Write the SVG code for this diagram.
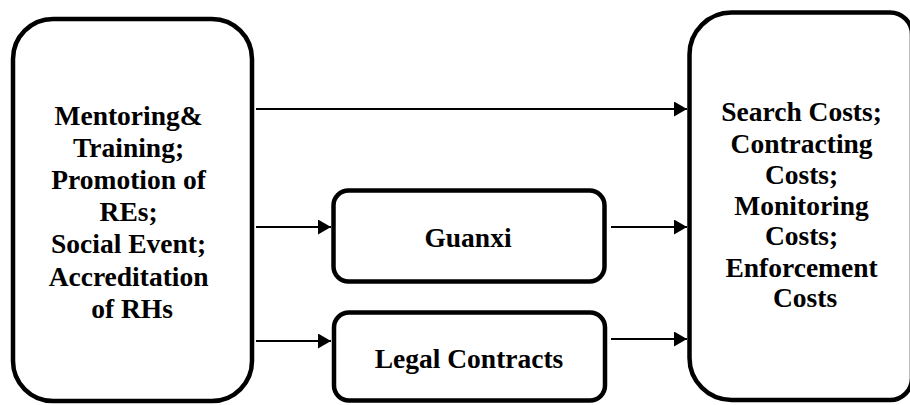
<svg xmlns="http://www.w3.org/2000/svg" width="910" height="405" viewBox="0 0 910 405">
<defs>
<marker id="ah" markerUnits="userSpaceOnUse" markerWidth="14" markerHeight="16" refX="13" refY="7.5" orient="auto">
<path d="M0,0 L13,7.5 L0,15 z" fill="#000"/>
</marker>
<style>
.box{fill:#fff;stroke:#000;stroke-width:4.5}
.t{font-weight:bold;font-size:27.5px;fill:#000;text-anchor:middle}
.c{stroke:#000;stroke-width:1.8;fill:none;marker-end:url(#ah)}
</style>
</defs>
<rect width="910" height="405" fill="#fff"/>
<g id="inputs">
<rect class="box" x="13" y="19" width="239" height="382" rx="40" ry="40"/>
<text class="t" font-family="'Liberation Serif', 'Times New Roman', 'DejaVu Serif', serif">
<tspan x="132" y="125">Mentoring&amp;</tspan>
<tspan x="132" y="157">Training;</tspan>
<tspan x="132" y="189">Promotion of</tspan>
<tspan x="132" y="221">REs;</tspan>
<tspan x="132" y="253">Social Event;</tspan>
<tspan x="132" y="286">Accreditation</tspan>
<tspan x="132" y="318">of RHs</tspan>
</text>
</g>
<g id="guanxi">
<rect class="box" x="333.5" y="190.5" width="271" height="91" rx="15" ry="15"/>
<text class="t" font-family="'Liberation Serif', 'Times New Roman', 'DejaVu Serif', serif" x="468" y="247">Guanxi</text>
</g>
<g id="legal">
<rect class="box" x="334" y="312.5" width="271" height="88" rx="15" ry="15"/>
<text class="t" font-family="'Liberation Serif', 'Times New Roman', 'DejaVu Serif', serif" x="469" y="368">Legal Contracts</text>
</g>
<g id="costs">
<path class="box" d="M731.5,12.5 L890,12.5 A22,22 0 0 1 912,34.5 L912,378 A22,22 0 0 1 890,400 L731.5,400 A42,42 0 0 1 689.5,358 L689.5,54.5 A42,42 0 0 1 731.5,12.5 Z"/>
<text class="t" font-family="'Liberation Serif', 'Times New Roman', 'DejaVu Serif', serif">
<tspan x="805" y="121">Search Costs;</tspan>
<tspan x="805" y="153">Contracting</tspan>
<tspan x="805" y="184">Costs;</tspan>
<tspan x="805" y="215">Monitoring</tspan>
<tspan x="805" y="245">Costs;</tspan>
<tspan x="805" y="277">Enforcement</tspan>
<tspan x="805" y="307">Costs</tspan>
</text>
</g>
<g id="connectors">
<line class="c" x1="256" y1="109" x2="687" y2="109"/>
<line class="c" x1="256" y1="227" x2="331" y2="227"/>
<line class="c" x1="611" y1="227" x2="687" y2="227"/>
<line class="c" x1="256" y1="341" x2="331" y2="341"/>
<line class="c" x1="611" y1="339" x2="687" y2="339"/>
</g>
</svg>
